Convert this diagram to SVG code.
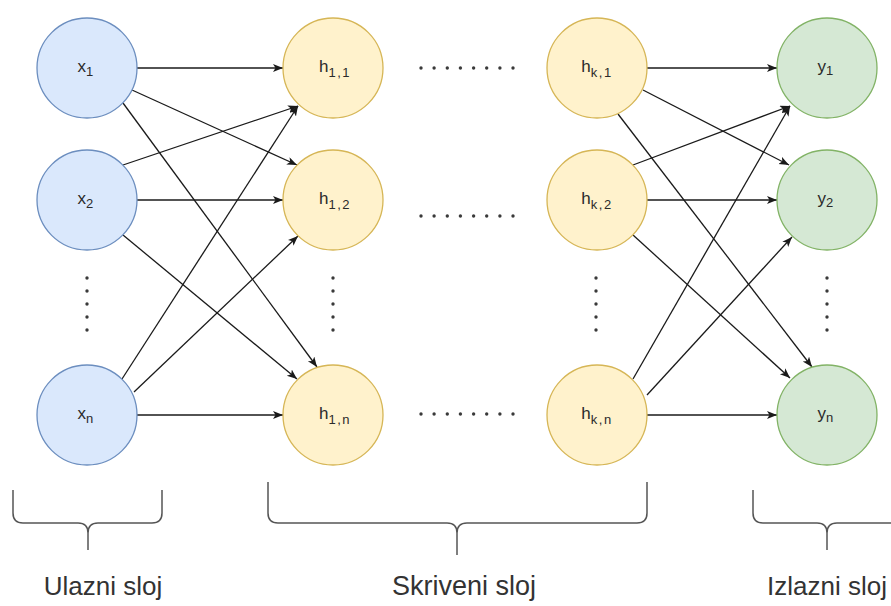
<svg xmlns="http://www.w3.org/2000/svg" width="891" height="606" viewBox="0 0 891 606">
<defs>
<marker id="arr" markerUnits="userSpaceOnUse" markerWidth="12" markerHeight="10" refX="10" refY="4" orient="auto">
<path d="M0,0 L10,4 L0,8 L2.5,4 z" fill="#1a1a1a"/>
</marker>
<style>
.in{fill:#dae8fc;stroke:#6c8ebf;stroke-width:1.3}
.hid{fill:#fff2cc;stroke:#d6b656;stroke-width:1.3}
.out{fill:#d5e8d4;stroke:#82b366;stroke-width:1.3}
.lbl{font-family:"Liberation Sans",Arial,sans-serif;font-size:17px;fill:#2a2a2a;text-anchor:middle}
.sub{font-size:13px;letter-spacing:1.5px}
.e{stroke:#1a1a1a;stroke-width:1.3;fill:none;marker-end:url(#arr)}
.dot{fill:#3a3a3a}
.br{stroke:#555;stroke-width:1.5;fill:none}
.cap{font-family:"Liberation Sans",Arial,sans-serif;font-size:26px;fill:#333;text-anchor:middle}
</style>
</defs>
<rect width="891" height="606" fill="#ffffff"/>

<g id="connectors">
<line class="e" x1="137" y1="68" x2="283" y2="68"/>
<line class="e" x1="132" y1="90" x2="297" y2="165"/>
<line class="e" x1="123" y1="103" x2="317" y2="367"/>
<line class="e" x1="123" y1="165" x2="298" y2="106"/>
<line class="e" x1="137" y1="200" x2="283" y2="200"/>
<line class="e" x1="123" y1="235" x2="297" y2="379"/>
<line class="e" x1="122" y1="379" x2="298" y2="106"/>
<line class="e" x1="134" y1="392" x2="298" y2="236"/>
<line class="e" x1="137" y1="415" x2="283" y2="415"/>

<line class="e" x1="647" y1="68" x2="777" y2="68"/>
<line class="e" x1="643" y1="90" x2="789" y2="165"/>
<line class="e" x1="618" y1="114" x2="812" y2="367"/>
<line class="e" x1="633" y1="165" x2="790" y2="106"/>
<line class="e" x1="647" y1="200" x2="777" y2="200"/>
<line class="e" x1="633" y1="235" x2="790" y2="378"/>
<line class="e" x1="633" y1="379" x2="790" y2="106"/>
<line class="e" x1="647" y1="395" x2="792" y2="237"/>
<line class="e" x1="647" y1="415" x2="777" y2="415"/>
</g>

<g id="node-x1"><circle class="in" cx="87" cy="68" r="50"/><text class="lbl" x="86" y="72">x<tspan class="sub" dy="4">1</tspan></text></g>
<g id="node-x2"><circle class="in" cx="87" cy="200" r="50"/><text class="lbl" x="86" y="204">x<tspan class="sub" dy="4">2</tspan></text></g>
<g id="node-xn"><circle class="in" cx="87" cy="415" r="50"/><text class="lbl" x="86" y="419">x<tspan class="sub" dy="4">n</tspan></text></g>

<g id="node-h11"><circle class="hid" cx="333" cy="68" r="50"/><text class="lbl" x="335" y="72">h<tspan class="sub" dy="5">1,1</tspan></text></g>
<g id="node-h12"><circle class="hid" cx="333" cy="200" r="50"/><text class="lbl" x="335" y="204">h<tspan class="sub" dy="5">1,2</tspan></text></g>
<g id="node-h1n"><circle class="hid" cx="333" cy="415" r="50"/><text class="lbl" x="335" y="419">h<tspan class="sub" dy="5">1,n</tspan></text></g>

<g id="node-hk1"><circle class="hid" cx="597" cy="68" r="50"/><text class="lbl" x="597" y="72">h<tspan class="sub" dy="5">k,1</tspan></text></g>
<g id="node-hk2"><circle class="hid" cx="597" cy="200" r="50"/><text class="lbl" x="597" y="204">h<tspan class="sub" dy="5">k,2</tspan></text></g>
<g id="node-hkn"><circle class="hid" cx="597" cy="415" r="50"/><text class="lbl" x="597" y="419">h<tspan class="sub" dy="5">k,n</tspan></text></g>

<g id="node-y1"><circle class="out" cx="827" cy="68" r="50"/><text class="lbl" x="826" y="72">y<tspan class="sub" dy="3">1</tspan></text></g>
<g id="node-y2"><circle class="out" cx="827" cy="200" r="50"/><text class="lbl" x="826" y="204">y<tspan class="sub" dy="3">2</tspan></text></g>
<g id="node-yn"><circle class="out" cx="827" cy="415" r="50"/><text class="lbl" x="826" y="419">y<tspan class="sub" dy="3">n</tspan></text></g>

<g id="dots">
<g class="dot">
<circle cx="87" cy="278" r="1.7"/><circle cx="87" cy="291" r="1.7"/><circle cx="87" cy="304" r="1.7"/><circle cx="87" cy="317" r="1.7"/><circle cx="87" cy="330" r="1.7"/>
<circle cx="333" cy="278" r="1.7"/><circle cx="333" cy="291" r="1.7"/><circle cx="333" cy="304" r="1.7"/><circle cx="333" cy="317" r="1.7"/><circle cx="333" cy="330" r="1.7"/>
<circle cx="596" cy="278" r="1.7"/><circle cx="596" cy="291" r="1.7"/><circle cx="596" cy="304" r="1.7"/><circle cx="596" cy="317" r="1.7"/><circle cx="596" cy="330" r="1.7"/>
<circle cx="827" cy="278" r="1.7"/><circle cx="827" cy="291" r="1.7"/><circle cx="827" cy="304" r="1.7"/><circle cx="827" cy="317" r="1.7"/><circle cx="827" cy="330" r="1.7"/>
<circle cx="421" cy="68" r="1.7"/><circle cx="434.1" cy="68" r="1.7"/><circle cx="447.3" cy="68" r="1.7"/><circle cx="460.4" cy="68" r="1.7"/><circle cx="473.6" cy="68" r="1.7"/><circle cx="486.7" cy="68" r="1.7"/><circle cx="499.9" cy="68" r="1.7"/><circle cx="513" cy="68" r="1.7"/>
<circle cx="421" cy="216" r="1.7"/><circle cx="434.1" cy="216" r="1.7"/><circle cx="447.3" cy="216" r="1.7"/><circle cx="460.4" cy="216" r="1.7"/><circle cx="473.6" cy="216" r="1.7"/><circle cx="486.7" cy="216" r="1.7"/><circle cx="499.9" cy="216" r="1.7"/><circle cx="513" cy="216" r="1.7"/>
<circle cx="421" cy="414" r="1.7"/><circle cx="434.1" cy="414" r="1.7"/><circle cx="447.3" cy="414" r="1.7"/><circle cx="460.4" cy="414" r="1.7"/><circle cx="473.6" cy="414" r="1.7"/><circle cx="486.7" cy="414" r="1.7"/><circle cx="499.9" cy="414" r="1.7"/><circle cx="513" cy="414" r="1.7"/>
</g>
</g>

<g id="brackets">
<path class="br" d="M13,490 L13,513 Q13,523 23,523 L78,523 Q88,523 88,533 L88,550 M88,533 Q88,523 98,523 L152,523 Q162,523 162,513 L162,490"/>
<path class="br" d="M268,482 L268,513 Q268,523 278,523 L447,523 Q457,523 457,533 L457,555 M457,533 Q457,523 467,523 L637,523 Q647,523 647,513 L647,482"/>
<path class="br" d="M753,490 L753,513 Q753,523 763,523 L817,523 Q827,523 827,533 L827,550 M827,533 Q827,523 837,523 L891,523 Q901,523 901,513 L901,490"/>
</g>

<g id="captions">
<text class="cap" x="103" y="595">Ulazni sloj</text>
<text class="cap" x="464" y="595" style="font-size:27px">Skriveni sloj</text>
<text class="cap" x="827" y="595">Izlazni sloj</text>
</g>
</svg>
